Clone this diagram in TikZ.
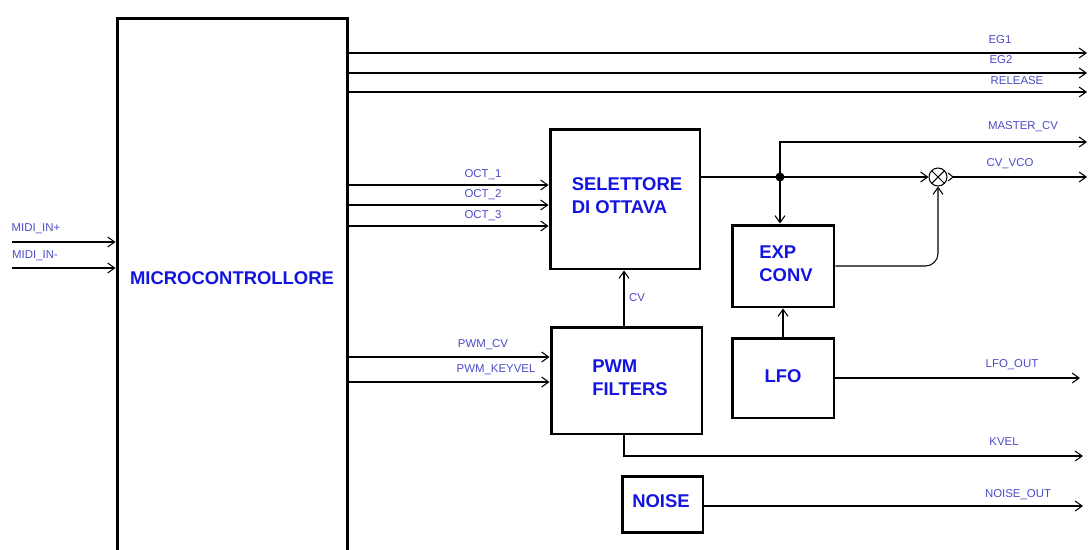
\documentclass[tikz,border=0pt]{standalone}
\usepackage{fontspec}
\setmainfont{Liberation Sans}
\usepackage{tikz}
\usetikzlibrary{arrows.meta, positioning, calc}

\definecolor{labelblue}{RGB}{75,75,200}
\definecolor{boxblue}{RGB}{20,20,225}

\begin{document}
\begin{tikzpicture}[x=0.02cm, y=-0.02cm,
  block/.style={draw, line width=1.7pt, inner sep=0pt},
  blocktext/.style={font=\bfseries\fontsize{10.5}{13}\selectfont, text=boxblue, align=left, inner sep=0pt},
  siglabel/.style={font=\fontsize{6.5}{7}\selectfont, text=labelblue, inner sep=0pt},
  sig/.style={line width=0.6pt, -{Straight Barb[length=1.4mm, width=2mm]}}]
  \useasboundingbox (0,0) rectangle (1088,549);
  \clip (0,0) rectangle (1088,549);

  % Blocks
  \node[block, anchor=north, minimum width=4.62cm, minimum height=11.8cm] (mcu) at (232.5,17) {};
  \node[blocktext] (mcutext) at (232,278) {MICROCONTROLLORE};
  \node[block, minimum width=3cm, minimum height=2.8cm] (sel) at (625,199) {};
  \node[blocktext] (seltext) at (627,196) {SELETTORE\\DI OTTAVA};
  \node[block, minimum width=2.04cm, minimum height=1.64cm] (exp) at (783,266) {};
  \node[blocktext] (exptext) at (786,264) {EXP\\CONV};
  \node[block, minimum width=2.04cm, minimum height=1.6cm] (lfo) at (783,378) {};
  \node[blocktext] (lfotext) at (783,376) {LFO};
  \node[block, minimum width=3.02cm, minimum height=2.14cm] (pwm) at (626.5,380.5) {};
  \node[blocktext] (pwmtext) at (630,378) {PWM\\FILTERS};
  \node[block, minimum width=1.62cm, minimum height=1.12cm] (noise) at (662.5,504) {};
  \node[blocktext] (noisetext) at (661,501) {NOISE};

  % Mixer
  \node[circle, draw, line width=0.6pt, minimum size=0.36cm, inner sep=0pt,
    path picture={\draw[line width=0.6pt] (path picture bounding box.north west) -- (path picture bounding box.south east)
      (path picture bounding box.north east) -- (path picture bounding box.south west);}] (mix) at (938,177) {};
  \fill (780,177) circle (0.09cm) coordinate (jn);

  % MIDI inputs
  \coordinate (midip) at (12,242);
  \coordinate (midim) at (12,268);
  \draw[sig] (midip) -- (midip -| mcu.west);
  \draw[sig] (midim) -- (midim -| mcu.west);
  \node[siglabel] (lmidip) at (36,229) {MIDI\_IN+};
  \node[siglabel] (lmidim) at (35,256) {MIDI\_IN-};

  % Envelope outputs
  \foreach \y/\name in {53/eg1, 73/eg2, 92/rel} {
    \coordinate (\name) at (1087,\y);
    \draw[sig] (\name -| mcu.east) -- (\name);
  }
  \node[siglabel] (leg1) at (1000,40) {EG1};
  \node[siglabel] (leg2) at (1001,60) {EG2};
  \node[siglabel] (lrel) at (1017,81) {RELEASE};

  % Octave lines
  \foreach \y/\n in {185/1, 205/2, 226/3} {
    \draw[sig] (mcu.east |- 0,\y) -- (sel.west |- 0,\y);
    \node[siglabel] (loct\n) at (483,\y-10) {OCT\_\n};
  }

  % PWM lines
  \draw[sig] (mcu.east |- 0,357) -- (pwm.west |- 0,357);
  \draw[sig] (mcu.east |- 0,382) -- (pwm.west |- 0,382);
  \node[siglabel] (lpwmcv) at (483,345) {PWM\_CV};
  \node[siglabel] (lpwmkv) at (496,370) {PWM\_KEYVEL};

  % CV
  \draw[sig] (pwm.north -| 624,0) -- (sel.south -| 624,0);
  \node[siglabel] (lcv) at (637,298) {CV};

  % Selettore output, master cv and vco cv
  \coordinate (master) at (1087,142);
  \coordinate (cvvco) at (1087,177);
  \draw[line width=0.6pt] (jn -| sel.east) -- (jn);
  \draw[sig] (jn) |- (master);
  \draw[sig] (jn) -- (mix.west);
  \draw[sig, {Straight Barb[reversed, length=1mm, width=1.6mm]}-{Straight Barb[length=1.4mm, width=2mm]}] (mix.east) -- (cvvco);
  \draw[sig] (jn) -- (exp.north -| jn);
  \node[siglabel] (lmaster) at (1023,127) {MASTER\_CV};
  \node[siglabel] (lcvvco) at (1010,164) {CV\_VCO};

  % Exp conv to mixer
  \draw[sig, rounded corners=0.25cm] (exp.east) -- (exp.east -| mix.south) -- (mix.south);
  \draw[sig] (lfo.north) -- (exp.south);

  % LFO, KVEL and noise outputs
  \coordinate (lfoout) at (1080,378);
  \coordinate (kvel) at (1083,456);
  \coordinate (noiseout) at (1083,506);
  \draw[sig] (lfo.east) -- (lfoout);
  \draw[sig] (pwm.south -| 624,0) |- (kvel);
  \draw[sig] (noise.east |- noiseout) -- (noiseout);
  \node[siglabel] (llfo) at (1012,365) {LFO\_OUT};
  \node[siglabel] (lkvel) at (1004,442) {KVEL};
  \node[siglabel] (lnoise) at (1018,495) {NOISE\_OUT};

\end{tikzpicture}
\end{document}
